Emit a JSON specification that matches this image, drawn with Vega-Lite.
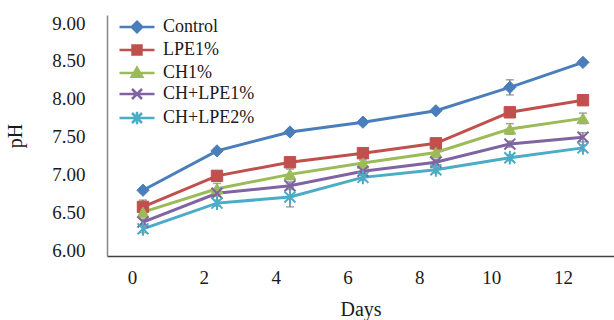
{
  "$schema": "https://vega.github.io/schema/vega-lite/v6.json",
  "width": 507,
  "height": 241,
  "autosize": {"type": "none"},
  "padding": {"left": 107, "top": 15, "right": 0, "bottom": 64},
  "background": "white",
  "config": {"view": {"stroke": null}, "font": "Liberation Serif"},
  "data": {
    "values": [
      {"Treatment": "Control", "Day": 0.306, "pH": 6.79, "err": 0.03},
      {"Treatment": "Control", "Day": 2.366, "pH": 7.31, "err": 0.03},
      {"Treatment": "Control", "Day": 4.398, "pH": 7.56, "err": 0.03},
      {"Treatment": "Control", "Day": 6.43, "pH": 7.69, "err": 0.03},
      {"Treatment": "Control", "Day": 8.46, "pH": 7.84, "err": 0.03},
      {"Treatment": "Control", "Day": 10.52, "pH": 8.15, "err": 0.1},
      {"Treatment": "Control", "Day": 12.556, "pH": 8.48, "err": 0.03},
      {"Treatment": "LPE1%", "Day": 0.306, "pH": 6.57, "err": 0.09},
      {"Treatment": "LPE1%", "Day": 2.366, "pH": 6.98, "err": 0.03},
      {"Treatment": "LPE1%", "Day": 4.398, "pH": 7.16, "err": 0.03},
      {"Treatment": "LPE1%", "Day": 6.43, "pH": 7.28, "err": 0.03},
      {"Treatment": "LPE1%", "Day": 8.46, "pH": 7.41, "err": 0.03},
      {"Treatment": "LPE1%", "Day": 10.52, "pH": 7.82, "err": 0.03},
      {"Treatment": "LPE1%", "Day": 12.556, "pH": 7.98, "err": 0.03},
      {"Treatment": "CH1%", "Day": 0.306, "pH": 6.5, "err": 0.04},
      {"Treatment": "CH1%", "Day": 2.366, "pH": 6.81, "err": 0.07},
      {"Treatment": "CH1%", "Day": 4.398, "pH": 7.0, "err": 0.07},
      {"Treatment": "CH1%", "Day": 6.43, "pH": 7.15, "err": 0.04},
      {"Treatment": "CH1%", "Day": 8.46, "pH": 7.29, "err": 0.04},
      {"Treatment": "CH1%", "Day": 10.52, "pH": 7.6, "err": 0.07},
      {"Treatment": "CH1%", "Day": 12.556, "pH": 7.74, "err": 0.07},
      {"Treatment": "CH+LPE1%", "Day": 0.306, "pH": 6.37, "err": 0.04},
      {"Treatment": "CH+LPE1%", "Day": 2.366, "pH": 6.75, "err": 0.04},
      {"Treatment": "CH+LPE1%", "Day": 4.398, "pH": 6.85, "err": 0.05},
      {"Treatment": "CH+LPE1%", "Day": 6.43, "pH": 7.04, "err": 0.04},
      {"Treatment": "CH+LPE1%", "Day": 8.46, "pH": 7.16, "err": 0.04},
      {"Treatment": "CH+LPE1%", "Day": 10.52, "pH": 7.4, "err": 0.04},
      {"Treatment": "CH+LPE1%", "Day": 12.556, "pH": 7.49, "err": 0.06},
      {"Treatment": "CH+LPE2%", "Day": 0.306, "pH": 6.28, "err": 0.05},
      {"Treatment": "CH+LPE2%", "Day": 2.366, "pH": 6.62, "err": 0.04},
      {"Treatment": "CH+LPE2%", "Day": 4.398, "pH": 6.7, "err": 0.13},
      {"Treatment": "CH+LPE2%", "Day": 6.43, "pH": 6.96, "err": 0.04},
      {"Treatment": "CH+LPE2%", "Day": 8.46, "pH": 7.06, "err": 0.04},
      {"Treatment": "CH+LPE2%", "Day": 10.52, "pH": 7.22, "err": 0.04},
      {"Treatment": "CH+LPE2%", "Day": 12.556, "pH": 7.35, "err": 0.04}
    ]
  },
  "encoding": {
    "x": {
      "field": "Day",
      "type": "quantitative",
      "scale": {"domain": [-0.696, 13.42], "nice": false, "zero": false},
      "axis": {
        "title": "Days",
        "values": [0, 2, 4, 6, 8, 10, 12],
        "format": "d",
        "ticks": false,
        "grid": false,
        "domainColor": "#404040",
        "domainWidth": 1.5,
        "labelFont": "Liberation Serif",
        "labelFontSize": 19,
        "labelColor": "#1a1a1a",
        "labelPadding": 12,
        "labelFlush": false,
        "labelOverlap": false,
        "titleFont": "Liberation Serif",
        "titleFontSize": 20,
        "titleFontWeight": "normal",
        "titleColor": "#1a1a1a",
        "titlePadding": 12
      }
    },
    "y": {
      "field": "pH",
      "type": "quantitative",
      "scale": {"domain": [5.921, 9.106], "nice": false, "zero": false},
      "axis": {
        "title": "pH",
        "values": [6, 6.5, 7, 7.5, 8, 8.5, 9],
        "format": ".2f",
        "ticks": false,
        "grid": false,
        "domainColor": "#868686",
        "domainWidth": 1.5,
        "labelFont": "Liberation Serif",
        "labelFontSize": 19,
        "labelColor": "#1a1a1a",
        "labelPadding": 22,
        "labelOverlap": false,
        "titleFont": "Liberation Serif",
        "titleFontSize": 20,
        "titleFontWeight": "normal",
        "titleColor": "#1a1a1a",
        "titlePadding": 26
      }
    }
  },
  "layer": [
    {
      "mark": {"type": "errorbar", "ticks": {"size": 8}, "color": "#7f7f7f", "thickness": 1.5},
      "encoding": {
        "y": {"field": "pH", "type": "quantitative"},
        "yError": {"field": "err"}
      }
    },
    {
      "mark": {"type": "line", "strokeWidth": 3},
      "encoding": {
        "color": {
          "field": "Treatment",
          "type": "nominal",
          "scale": {
            "domain": ["Control", "LPE1%", "CH1%", "CH+LPE1%", "CH+LPE2%"],
            "range": ["#4a7ebb", "#c0504d", "#9bbb59", "#8064a2", "#4bacc6"]
          },
          "legend": {
            "orient": "none",
            "legendX": 21,
            "legendY": 3,
            "title": null,
            "padding": 0,
            "labelFont": "Liberation Serif",
            "labelFontSize": 18,
            "labelColor": "#1a1a1a",
            "symbolSize": 100,
            "symbolStrokeWidth": 2.5,
            "rowPadding": 2,
            "labelOffset": 17,
            "encode": {
              "symbols": {
                "update": {
                  "shape": {"signal": "datum.value === 'Control' ? 'M-3.5,0L3.5,0M0,-1.05L1.05,0L0,1.05L-1.05,0Z' : datum.value === 'LPE1%' ? 'M-3.5,0L3.5,0M-0.9,-0.9L0.9,-0.9L0.9,0.9L-0.9,0.9Z' : datum.value === 'CH1%' ? 'M-3.5,0L3.5,0M0,-1.05L1.05,0.75L-1.05,0.75Z' : datum.value === 'CH+LPE1%' ? 'M-3.5,0L3.5,0M-1,-1L1,1M-1,1L1,-1' : 'M-3.5,0L3.5,0M-1,-1L1,1M-1,1L1,-1M0,-1.25L0,1.25'"},
                  "fill": {"scale": "color", "field": "value"},
                  "stroke": {"scale": "color", "field": "value"},
                  "strokeWidth": {"value": 2.5},
                  "opacity": {"value": 1}
                }
              }
            }
          }
        }
      }
    },
    {
      "transform": [{"filter": "datum.Treatment === 'Control'"}],
      "mark": {"type": "point", "shape": "diamond", "filled": true, "size": 150, "color": "#4a7ebb", "stroke": "#4a7ebb", "strokeWidth": 1, "opacity": 1}
    },
    {
      "transform": [{"filter": "datum.Treatment === 'LPE1%'"}],
      "mark": {"type": "point", "shape": "square", "filled": true, "size": 130, "color": "#c0504d", "stroke": "#c0504d", "strokeWidth": 1, "opacity": 1}
    },
    {
      "transform": [{"filter": "datum.Treatment === 'CH1%'"}],
      "mark": {"type": "point", "shape": "triangle-up", "filled": true, "size": 140, "color": "#9bbb59", "stroke": "#9bbb59", "strokeWidth": 1, "opacity": 1}
    },
    {
      "transform": [{"filter": "datum.Treatment === 'CH+LPE1%'"}],
      "mark": {"type": "point", "shape": "M-1,-1L1,1M-1,1L1,-1", "filled": false, "size": 120, "color": "#8064a2", "strokeWidth": 2, "opacity": 1}
    },
    {
      "transform": [{"filter": "datum.Treatment === 'CH+LPE2%'"}],
      "mark": {"type": "point", "shape": "M-1,-1L1,1M-1,1L1,-1M0,-1.25L0,1.25", "filled": false, "size": 120, "color": "#4bacc6", "strokeWidth": 2, "opacity": 1}
    }
  ]
}
